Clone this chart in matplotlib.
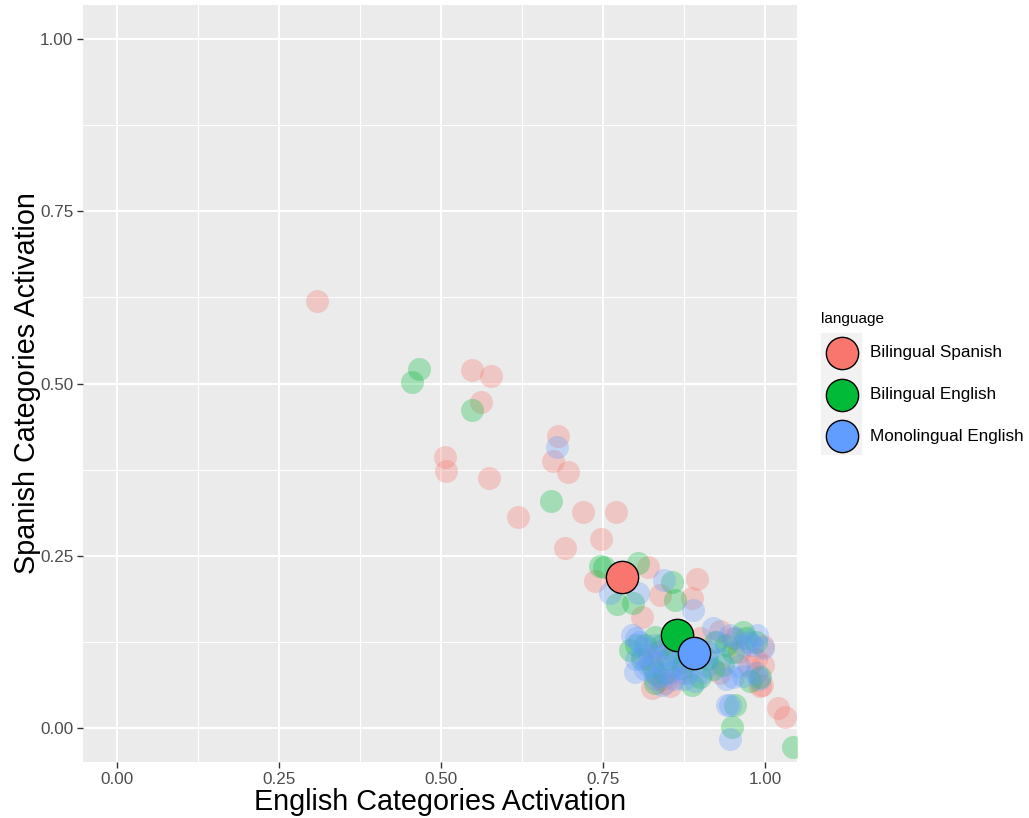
import matplotlib
matplotlib.use("Agg")
import matplotlib.pyplot as plt
from matplotlib.patches import Rectangle

plt.rcParams['font.family'] = ['Liberation Sans', 'DejaVu Sans']

# Per-item activations (English categories, Spanish categories) by language group
languages = ["Bilingual Spanish", "Bilingual English", "Monolingual English"]
colors = ["#F8766D", "#00BA38", "#619CFF"]

spanish_x = [0.309, 0.548, 0.577, 0.562, 0.506, 0.508, 0.574, 0.619, 0.680, 0.673,
             0.696, 0.719, 0.770, 0.747, 0.691, 0.738, 0.819, 0.810, 0.838, 0.895,
             0.887, 0.997, 0.992, 1.020, 1.031, 0.826, 0.853, 0.995, 0.997, 0.930,
             0.960, 0.840, 0.820, 0.870, 0.900, 0.950, 0.975, 0.845, 0.835, 0.930,
             0.985]
spanish_y = [0.620, 0.520, 0.511, 0.473, 0.393, 0.373, 0.363, 0.306, 0.424, 0.388,
             0.372, 0.313, 0.313, 0.274, 0.261, 0.213, 0.234, 0.161, 0.193, 0.216,
             0.189, 0.091, 0.060, 0.029, 0.016, 0.058, 0.060, 0.062, 0.118, 0.080,
             0.110, 0.070, 0.100, 0.080, 0.130, 0.130, 0.090, 0.065, 0.110, 0.140,
             0.100]

biling_en_x = [0.466, 0.455, 0.548, 0.670, 0.745, 0.752, 0.804, 0.772, 0.796, 0.856,
               0.861, 0.954, 0.949, 1.043, 0.792, 0.830, 0.887, 0.900, 0.830, 0.872,
               0.966, 0.992, 0.935, 0.923, 0.977, 0.810, 0.850, 0.800, 0.840, 0.910,
               0.880, 0.940, 0.815, 0.825, 0.845, 0.860, 0.875, 0.920, 0.950, 0.970,
               0.985, 0.830]
biling_en_y = [0.521, 0.502, 0.462, 0.329, 0.235, 0.233, 0.239, 0.179, 0.181, 0.212,
               0.186, 0.033, 0.001, -0.028, 0.113, 0.080, 0.062, 0.074, 0.131, 0.087,
               0.139, 0.073, 0.091, 0.125, 0.067, 0.100, 0.100, 0.120, 0.120, 0.100,
               0.120, 0.120, 0.120, 0.090, 0.080, 0.110, 0.095, 0.085, 0.110, 0.130,
               0.125, 0.065]

mono_en_x = [0.679, 0.761, 0.804, 0.844, 0.889, 0.946, 0.946, 0.795, 0.799, 0.841,
             0.815, 0.846, 0.861, 0.892, 0.912, 0.920, 0.946, 0.988, 0.997, 0.951,
             0.990, 0.941, 0.904, 0.966, 0.820, 0.830, 0.850, 0.870, 0.880, 0.810,
             0.860, 0.930, 0.960, 0.975, 0.800, 0.830, 0.805, 0.815, 0.825, 0.835,
             0.845, 0.855, 0.865, 0.875, 0.835, 0.910, 0.925, 0.940, 0.955, 0.965,
             0.980, 0.985, 0.870, 0.800]
mono_en_y = [0.408, 0.196, 0.196, 0.215, 0.171, 0.033, -0.017, 0.135, 0.081, 0.062,
             0.116, 0.106, 0.135, 0.067, 0.110, 0.145, 0.135, 0.135, 0.116, 0.073,
             0.070, 0.033, 0.081, 0.120, 0.090, 0.120, 0.080, 0.100, 0.080, 0.105,
             0.070, 0.100, 0.090, 0.125, 0.130, 0.070, 0.125, 0.085, 0.105, 0.095,
             0.115, 0.090, 0.085, 0.070, 0.075, 0.090, 0.125, 0.070, 0.130, 0.075,
             0.120, 0.080, 0.120, 0.100]

# Group means
mean_x = [0.779, 0.864, 0.890]
mean_y = [0.219, 0.135, 0.109]

xs = [spanish_x, biling_en_x, mono_en_x]
ys = [spanish_y, biling_en_y, mono_en_y]

fig = plt.figure(figsize=(10.29, 8.18), dpi=100)
ax = fig.add_axes([83 / 1029, 1 - 762 / 818, (797 - 83) / 1029, (762 - 5) / 818])
ax.set_facecolor("#EBEBEB")
for s in ax.spines.values():
    s.set_visible(False)

ax.set_xlim(-0.0525, 1.049)
ax.set_ylim(-0.05, 1.05)
ticks = [0, 0.25, 0.5, 0.75, 1.0]
minor = [0.125, 0.375, 0.625, 0.875]
ax.set_xticks(ticks)
ax.set_yticks(ticks)
ax.set_xticklabels(["0.00", "0.25", "0.50", "0.75", "1.00"])
ax.set_yticklabels(["0.00", "0.25", "0.50", "0.75", "1.00"])
ax.set_xticks(minor, minor=True)
ax.set_yticks(minor, minor=True)
ax.grid(which="major", color="white", linewidth=1.5)
ax.grid(which="minor", color="white", linewidth=0.75)
ax.set_axisbelow(True)
ax.tick_params(which="major", length=4, width=1, color="#333333",
               labelcolor="#4D4D4D", labelsize=12.3, pad=3)
ax.tick_params(which="minor", length=0)

for x, y, c in zip(xs, ys, colors):
    ax.scatter(x, y, s=275, color=c, alpha=0.3, linewidths=0, zorder=2)

for mx, my, c in zip(mean_x, mean_y, colors):
    ax.scatter([mx], [my], s=540, color=c, edgecolors="black", linewidths=1.0, zorder=3)

ax.set_xlabel("English Categories Activation", fontsize=20.7, labelpad=1)
ax.set_ylabel("Spanish Categories Activation", fontsize=20.7, labelpad=-0.5)

# Legend drawn in pixel coordinates
lg = fig.add_axes([0, 0, 1, 1], zorder=5)
lg.set_xlim(0, 1029)
lg.set_ylim(818, 0)
lg.axis("off")
lg.text(821, 319, "language", fontsize=11, va="center", ha="left", color="black")
lg.add_patch(Rectangle((821, 333), 41, 122, facecolor="#F2F2F2", edgecolor="none"))
for i, (lab, c) in enumerate(zip(languages, colors)):
    cy = 353 + i * 41.5
    lg.scatter([842], [cy], s=540, color=c, edgecolors="black", linewidths=1.0)
    lg.text(870, cy, lab, fontsize=12.3, va="center", ha="left", color="black")

fig.savefig("out.png", dpi=100)
